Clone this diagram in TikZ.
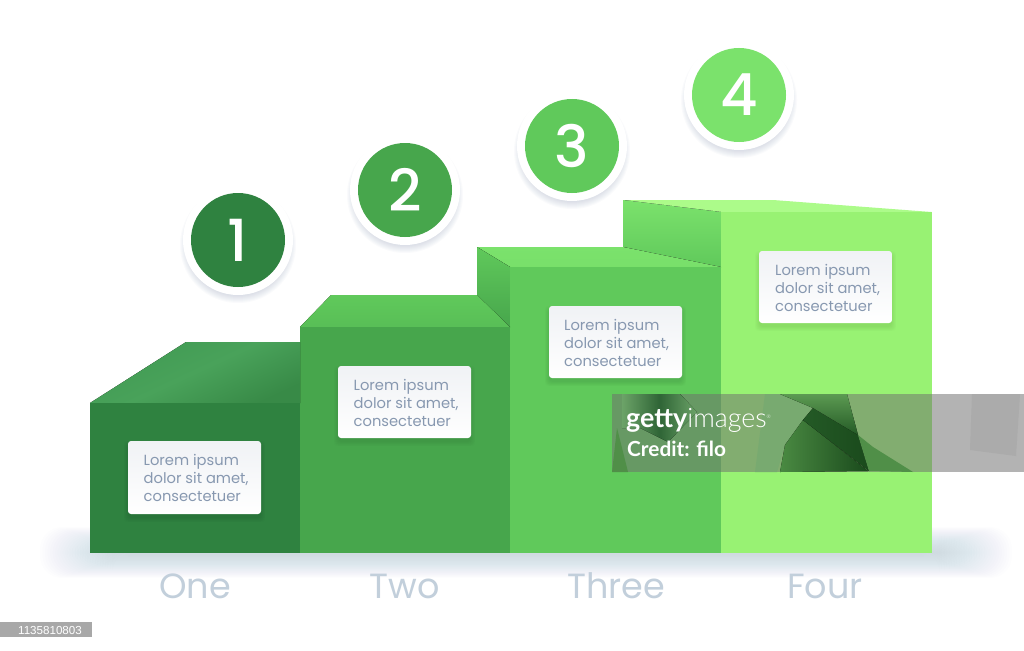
\documentclass[tikz,border=0pt]{standalone}
\usepackage{fontspec}
\setmainfont{Poppins}
\newfontfamily\cardfont{Poppins}
\newfontfamily\labelfont{Poppins}
\newfontfamily\digitfont{Poppins Medium}
\newfontfamily\latobold{Lato Bold}
\newfontfamily\latolight{Lato Light}
\newfontfamily\idfont{Liberation Sans}
\definecolor{frontA}{HTML}{2F8240}
\definecolor{frontB}{HTML}{47A64C}
\definecolor{frontC}{HTML}{60C95B}
\definecolor{frontD}{HTML}{98F273}
\definecolor{discD}{HTML}{7BE26C}
\definecolor{topD}{HTML}{ACFB8A}
\definecolor{topAlight}{HTML}{49A25A}
\definecolor{topAleft}{HTML}{409A53}
\definecolor{topAright}{HTML}{388A47}
\definecolor{cardtext}{HTML}{8798B0}
\definecolor{cardtop}{HTML}{F0F2F5}
\definecolor{labelcol}{HTML}{C2CFDB}
\definecolor{shadowcol}{HTML}{8C98B8}
\definecolor{groundcol}{HTML}{5F75C8}
\definecolor{overgrey}{HTML}{6E6E6E}
\definecolor{wmdark}{HTML}{2F6536}
\definecolor{wmbase}{HTML}{6CA368}
\definecolor{wmmid}{HTML}{4A8A42}
\definecolor{wmdeep}{HTML}{1A4A1C}
\definecolor{wmband}{HTML}{245A26}
\definecolor{wmup}{HTML}{5C9A52}
\definecolor{wmlow}{HTML}{508F48}
\definecolor{wmlight}{HTML}{78AA70}
\tikzset{
  cardbox/.style={rounded corners=3pt,top color=cardtop,bottom color=white,draw=none},
  cardlabel/.style={font=\cardfont\fontsize{14.7}{17.7}\selectfont,text=cardtext,align=left,anchor=north west,inner sep=0pt},
  steplabel/.style={font=\labelfont\fontsize{35}{35}\selectfont,text=labelcol,inner sep=0pt},
  disc/.style={circle,minimum size=94pt,inner sep=0pt,text=white,font=\digitfont\fontsize{58}{58}\selectfont},
}
\newcommand{\discshadow}[2]{%
  \foreach \i in {0,...,8}{\fill[shadowcol,opacity=.04] (#1,#2+5) circle ({50+\i});}%
  \fill[white] (#1,#2) circle (55);}
\newcommand{\cardshadow}[4]{%
  \foreach \i in {0,...,6}{\fill[black,opacity=.012,rounded corners=4pt] (#1-\i*.7,#2+4-\i*.7) rectangle (#3+\i*.7,#4+4+\i*.7);}%
  \shade[cardbox] (#1,#2) rectangle (#3,#4);}
\begin{document}
\begin{tikzpicture}[x=1pt,y=-1pt]
\useasboundingbox (0,0) rectangle (1024,650);
\fill[white] (0,0) rectangle (1024,650);
% ground shadow
\foreach \i in {0,...,29}{
  \fill[groundcol,opacity=.006,rounded corners=22pt] (40+\i*2.5,527+\i*.8) rectangle (1012-\i*2.5,578-\i*.8);
}
% box 4
\fill[topD] (623,200) -- (773,200) -- (931.5,212) -- (721,212) -- cycle;
\fill[top color=discD,bottom color=frontC] (623,200) -- (721,212) -- (721,267) -- (623,247) -- cycle;
\fill[frontD] (721,212) rectangle (931.5,553);
% box 3
\fill[top color=discD,bottom color=discD!90!frontC] (477,247) -- (623,247) -- (721,267) -- (510,267) -- cycle;
\fill[top color=frontC,bottom color=frontB] (477,247) -- (510,267) -- (510,327) -- (477,295) -- cycle;
\fill[frontC] (510,267) rectangle (721,553);
% box 2
\fill[top color=frontC,bottom color=frontC!70!frontB] (300,327) -- (331,295) -- (477,295) -- (510,327) -- cycle;
\fill[frontB] (300,327) rectangle (510,553);
% box 1
\fill[left color=topAleft,right color=topAright,middle color=topAlight,shading angle=25] (90,403) -- (186,342) -- (300,342) -- (300,403) -- cycle;
\fill[frontA] (90,403) rectangle (300,553);
% discs
\discshadow{238}{240}
\discshadow{405}{190}
\discshadow{572}{146}
\discshadow{739}{95}
\node[disc,fill=frontA] (d1) at (238,240) {1};
\node[disc,fill=frontB] (d2) at (405,190) {2};
\node[disc,fill=frontC] (d3) at (572,146) {3};
\node[disc,fill=discD] (d4) at (739,95) {4};
% cards
\cardshadow{128}{441}{261}{514}
\cardshadow{338}{366}{471}{438}
\cardshadow{549}{306}{682}{378}
\cardshadow{759}{251}{892}{323}
\node[cardlabel] (c1) at (143.5,454.5) {Lorem ipsum\\dolor sit amet,\\consectetuer};
\node[cardlabel] (c2) at (353.5,379.5) {Lorem ipsum\\dolor sit amet,\\consectetuer};
\node[cardlabel] (c3) at (564,319.5) {Lorem ipsum\\dolor sit amet,\\consectetuer};
\node[cardlabel] (c4) at (775,264.5) {Lorem ipsum\\dolor sit amet,\\consectetuer};
% step names
\node[steplabel] (s1) at (195,586) {One};
\node[steplabel] (s2) at (405,586) {Two};
\node[steplabel] (s3) at (616,586) {Three};
\node[steplabel] (s4) at (825,586) {Four};
% watermark
\fill[overgrey,opacity=.52] (612,394) rectangle (1024,472);
\begin{scope}
\clip (612,394) rectangle (1024,472);
\fill[left color=wmbase,right color=wmbase,middle color=wmdark] (622,394) -- (680,394) -- (697,412) -- (668,442) -- (640,428) -- (622,428) -- cycle;
\fill[wmlow] (617,428) -- (628,472) -- (612,472) -- cycle;
\fill[wmlight] (765,394) -- (822,394) -- (803,420) -- (785,445) -- (777,472) -- (755,472) -- cycle;
\fill[left color=wmmid,right color=wmdeep] (785,445) -- (803,420) -- (868,471) -- (780,472) -- cycle;
\fill[left color=wmband,right color=wmdeep] (813,408) -- (858,435) -- (869,471) -- (803,420) -- cycle;
\fill[top color=wmup,bottom color=wmband] (780,394) -- (847,394) -- (858,435) -- (813,408) -- cycle;
\fill[wmlow] (858,435) -- (873,447) -- (913,472) -- (869,471) -- cycle;
\fill[black!33] (972,394) -- (1020,394) -- (1016,456) -- (970,450) -- cycle;
\end{scope}
\node[anchor=base west,inner sep=0pt,text=white,font=\fontsize{26.8}{26.8}\selectfont] (g) at (626,427) {{\latobold getty}{\latolight images}\raisebox{9pt}{\latolight\fontsize{5}{5}\selectfont ®}};
\node[anchor=base west,inner sep=0pt,text=white,font=\latobold\fontsize{20.8}{20.8}\selectfont] (cr) at (627,456) {Credit: filo};
% id tag
\fill[black!34] (0,622) rectangle (92,637);
\node[inner sep=0pt,text=white,font=\idfont\fontsize{11.6}{11.6}\selectfont] (id) at (50,630) {1135810803};
\end{tikzpicture}
\end{document}
